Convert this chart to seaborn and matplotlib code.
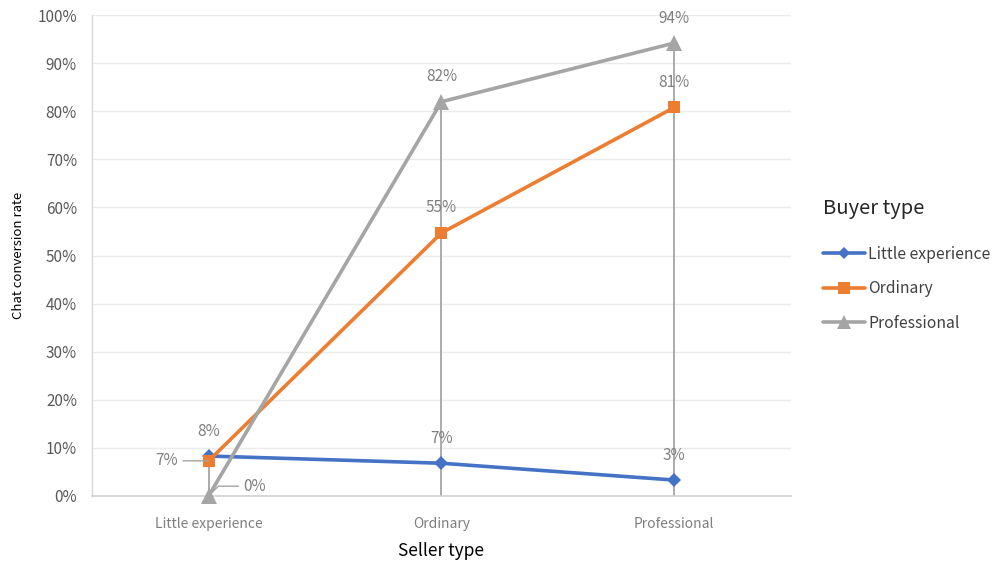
import pandas as pd
import seaborn as sns
import matplotlib.pyplot as plt
from matplotlib.ticker import PercentFormatter

# Chat conversion rate by seller type, one line per buyer type
seller_types = ["Little experience", "Ordinary", "Professional"]
buyer_types = ["Little experience", "Ordinary", "Professional"]
little_experience = [0.083, 0.068, 0.033]
ordinary = [0.073, 0.547, 0.808]
professional = [0.000, 0.820, 0.942]
y_ticks = [0.0, 0.1, 0.2, 0.3, 0.4, 0.5, 0.6, 0.7, 0.8, 0.9, 1.0]

series = dict(zip(buyer_types, [little_experience, ordinary, professional]))
df = pd.DataFrame(
    [
        {"pos": i, "seller": s, "buyer": b, "rate": v}
        for b, vals in series.items()
        for i, (s, v) in enumerate(zip(seller_types, vals))
    ]
)

sns.set_theme(style="white")
plt.rcParams["font.family"] = ["Noto Sans CJK SC", "DejaVu Sans"]

colors = {"Little experience": "#4472C4", "Ordinary": "#ED7D31", "Professional": "#A5A5A5"}
markers = {"Little experience": "D", "Ordinary": "s", "Professional": "^"}
sizes = {"Little experience": 7, "Ordinary": 9, "Professional": 11}

fig = plt.figure(figsize=(9.92, 5.61), dpi=100)
ax = fig.add_axes([0.093, 0.116, 0.704, 0.857])

# drop lines from each category's highest value to the axis
tops = [max(vals) for vals in zip(*series.values())]
ax.vlines(range(len(seller_types)), 0, tops, color="#A5A5A5", lw=1.3, zorder=1.5)

sns.lineplot(
    data=df, x="pos", y="rate", hue="buyer", style="buyer",
    palette=colors, markers=markers, dashes=False, lw=2.6,
    markeredgewidth=0, ax=ax, legend=False, zorder=3,
)
for line, b in zip(ax.get_lines(), buyer_types):
    line.set_markersize(sizes[b])
    line.set_clip_on(False)

ax.set_xlim(-0.5, 2.5)
ax.set_ylim(0, 1.0)
ax.set_xticks(range(len(seller_types)))
ax.set_xticklabels(seller_types, fontsize=10, color="#7F7F7F")
ax.set_yticks(y_ticks)
ax.yaxis.set_major_formatter(PercentFormatter(1.0, decimals=0))
ax.tick_params(axis="y", labelsize=11, colors="#595959", length=5, width=1, direction="out", pad=6)
for t in ax.yaxis.get_ticklines():
    t.set_color("#D9D9D9")
ax.tick_params(axis="x", length=0, pad=15)
ax.grid(axis="y", color="#EBEBEB", lw=1)
ax.set_axisbelow(True)
for side in ["top", "right"]:
    ax.spines[side].set_visible(False)
ax.spines["left"].set_color("#D9D9D9")
ax.spines["bottom"].set_color("#D0D0D0")
ax.spines["left"].set_linewidth(1)
ax.spines["bottom"].set_linewidth(1.2)

ax.set_xlabel("Seller type", fontsize=12.5, color="black", labelpad=8)
ax.set_ylabel("Chat conversion rate", fontsize=9.5, color="black", labelpad=9)

# value labels
label_color = "#7F7F7F"
for b, vals in series.items():
    for i, v in enumerate(vals):
        txt = f"{round(v * 100):.0f}%"
        if i == 0 and b == "Ordinary":
            ax.annotate(txt, xy=(i, v), xytext=(-30, 0), textcoords="offset points",
                        ha="center", va="center", fontsize=11, color=label_color,
                        arrowprops=dict(arrowstyle="-", color="#A5A5A5", lw=1,
                                        shrinkA=1, shrinkB=0))
        elif i == 0 and b == "Professional":
            ax.annotate(txt, xy=(i, v), xytext=(33, 7), textcoords="offset points",
                        ha="center", va="center", fontsize=11, color=label_color,
                        arrowprops=dict(arrowstyle="-", color="#A5A5A5", lw=1,
                                        shrinkA=1, shrinkB=0,
                                        connectionstyle="angle,angleA=0,angleB=45,rad=0"))
        else:
            ax.annotate(txt, xy=(i, v), xytext=(0, 18), textcoords="offset points",
                        ha="center", va="center", fontsize=11, color=label_color)

# legend
handles = [
    plt.Line2D([], [], color=colors[b], lw=2.6, marker=markers[b],
               markersize=sizes[b] - 1, markeredgewidth=0)
    for b in buyer_types
]
leg = fig.legend(handles, buyer_types, title="Buyer type", loc="upper left",
                 bbox_to_anchor=(0.815, 0.672), frameon=False, fontsize=11.3,
                 title_fontsize=14.5, handlelength=2.7, labelspacing=1.12,
                 handletextpad=0.2, alignment="left")
leg._legend_box.sep = 19
for t in leg.get_texts():
    t.set_color("#404040")
leg.get_title().set_color("#262626")

fig.savefig("out.png", dpi=100)
